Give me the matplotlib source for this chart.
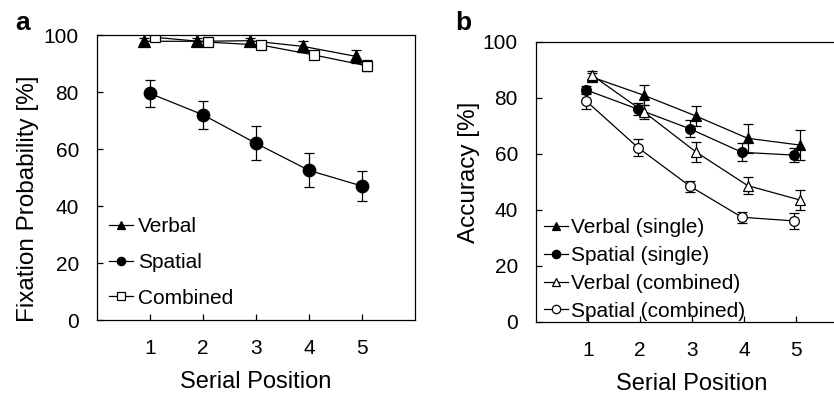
import matplotlib
matplotlib.use("Agg")
import matplotlib.pyplot as plt
from matplotlib.lines import Line2D
import numpy as np

plt.rcParams['font.family'] = ['Liberation Sans', 'DejaVu Sans']

positions = [1, 2, 3, 4, 5]

# Panel a: fixation probability (%)
fix_verbal = [97.8, 97.8, 98.0, 96.0, 92.5]
fix_verbal_err = [1.0, 1.0, 1.0, 2.0, 2.2]
fix_spatial = [79.5, 72.0, 62.0, 52.5, 47.0]
fix_spatial_err = [4.7, 5.0, 6.0, 6.0, 5.2]
fix_combined = [99.2, 97.5, 96.5, 93.0, 89.2]
fix_combined_err = [0.6, 0.8, 1.0, 1.2, 2.0]

# Panel b: accuracy (%)
acc_verbal_single = [87.5, 81.0, 73.6, 65.6, 63.2]
acc_verbal_single_err = [1.5, 3.6, 3.6, 5.2, 5.2]
acc_spatial_single = [82.9, 76.0, 69.0, 60.6, 59.6]
acc_spatial_single_err = [1.5, 2.2, 3.0, 3.2, 2.5]
acc_verbal_comb = [88.2, 75.1, 60.8, 48.7, 43.6]
acc_verbal_comb_err = [1.5, 2.5, 3.6, 3.0, 3.6]
acc_spatial_comb = [79.0, 62.3, 48.5, 37.4, 36.1]
acc_spatial_comb_err = [2.8, 3.0, 2.0, 2.0, 2.8]

yticks = [0, 20, 40, 60, 80, 100]

fig = plt.figure(figsize=(8.34, 3.96), dpi=100)
ax_a = fig.add_axes([0.1163, 0.1919, 0.3813, 0.7197])
ax_b = fig.add_axes([0.6427, 0.1869, 0.3741, 0.7071])

lw = 0.9
x = np.array(positions, dtype=float)


def series(ax, dx, y, err, marker, filled, ms, label):
    fc = 'black' if filled else 'white'
    ax.errorbar(x + dx, y, yerr=err, color='black', lw=lw, elinewidth=lw,
                capsize=3.5, capthick=lw, marker=marker, markersize=ms,
                markerfacecolor=fc, markeredgecolor='black',
                markeredgewidth=0.9)
    return Line2D([], [], color='black', lw=lw, marker=marker, markersize=6,
                  markerfacecolor=fc, markeredgecolor='black',
                  markeredgewidth=0.9, label=label)


ha = [
    series(ax_a, -0.11, fix_verbal, fix_verbal_err, '^', True, 8, 'Verbal'),
    series(ax_a, 0.0, fix_spatial, fix_spatial_err, 'o', True, 9, 'Spatial'),
    series(ax_a, 0.09, fix_combined, fix_combined_err, 's', False, 7.5, 'Combined'),
]
hb = [
    series(ax_b, 0.07, acc_verbal_single, acc_verbal_single_err, '^', True, 7.5, 'Verbal (single)'),
    series(ax_b, -0.04, acc_spatial_single, acc_spatial_single_err, 'o', True, 7, 'Spatial (single)'),
    series(ax_b, 0.07, acc_verbal_comb, acc_verbal_comb_err, '^', False, 7.5, 'Verbal (combined)'),
    series(ax_b, -0.04, acc_spatial_comb, acc_spatial_comb_err, 'o', False, 7, 'Spatial (combined)'),
]

for ax in (ax_a, ax_b):
    ax.set_xlim(0, 6)
    ax.set_ylim(0, 100)
    ax.set_xticks(positions)
    ax.set_yticks(yticks)
    ax.tick_params(direction='in', length=4.5, width=0.9, labelsize=15)
    ax.tick_params(axis='y', pad=13)
    ax.tick_params(axis='x', pad=14)
    for sp in ax.spines.values():
        sp.set_linewidth(0.9)
    ax.set_xlabel('Serial Position', fontsize=17, labelpad=9)

ax_a.set_ylabel('Fixation Probability [%]', fontsize=17.5)
ax_b.set_ylabel('Accuracy [%]', fontsize=17.5)
ax_a.yaxis.set_label_coords(-0.182, 0.426)
ax_b.yaxis.set_label_coords(-0.18, 0.536)

ax_a.legend(handles=ha, loc='lower left', frameon=False, fontsize=15,
            handlelength=1.15, handletextpad=0.2, labelspacing=0.8,
            borderaxespad=0.2, bbox_to_anchor=(0.0, 0.0))
ax_b.legend(handles=hb, loc='lower left', frameon=False, fontsize=15,
            handlelength=1.15, handletextpad=0.15, labelspacing=0.42,
            borderaxespad=0.0, bbox_to_anchor=(0.0, -0.025))

fig.text(0.018, 0.925, 'a', fontsize=19, fontweight='bold')
fig.text(0.546, 0.925, 'b', fontsize=19, fontweight='bold')

fig.savefig('out.png', dpi=100)
